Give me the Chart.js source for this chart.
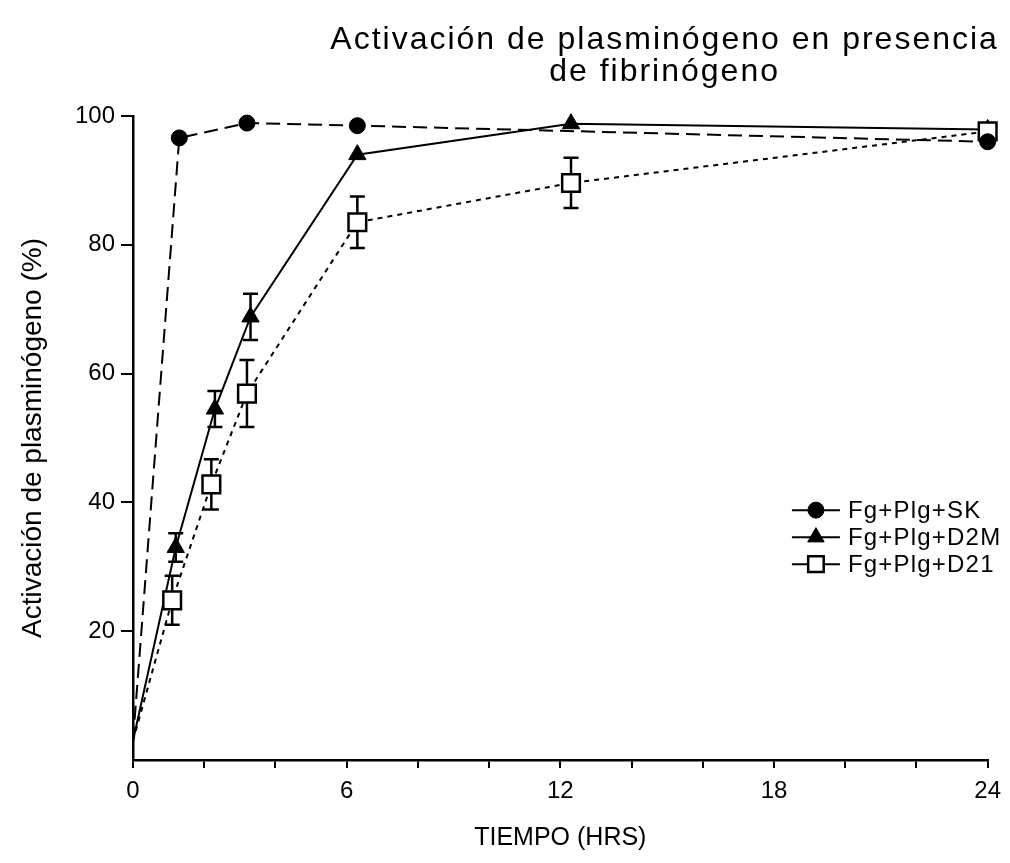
<!DOCTYPE html>
<html>
<head>
<meta charset="utf-8">
<script src="https://cdn.jsdelivr.net/npm/chart.js@4.4.1/dist/chart.umd.min.js"></script>
<style>
  html, body { margin: 0; padding: 0; background: #fff; }
  #wrap { width: 1010px; height: 863px; }
</style>
</head>
<body>
<div id="wrap"><canvas id="c" width="1010" height="863"></canvas></div>
<script>
// ---- data ----
const titleLines = ['Activación de plasminógeno en presencia', 'de fibrinógeno'];
const xTitle = 'TIEMPO (HRS)';
const yTitle = 'Activación de plasminógeno (%)';
const seriesLabels = ['Fg+Plg+SK', 'Fg+Plg+D2M', 'Fg+Plg+D21'];
const xTickLabels = [0, 6, 12, 18, 24];
const yTickLabels = [20, 40, 60, 80, 100];

const timesSK = [0, 1.3, 3.2, 6.3, 24];
const valuesSK = [3, 96.6, 98.9, 98.5, 96.0];

const timesD2M = [0, 1.2, 2.3, 3.3, 6.3, 12.3, 24];
const valuesD2M = [3, 33, 54.5, 68.8, 94, 98.8, 97.9];
const errD2M = [0, 2.2, 2.8, 3.6, 0, 0, 0];

const timesD21 = [0, 1.1, 2.2, 3.2, 6.3, 12.3, 24];
const valuesD21 = [3, 24.8, 42.8, 56.9, 83.5, 89.6, 97.6];
const errD21 = [0, 3.8, 3.9, 5.2, 4.0, 3.9, 0];

const FONT = '"Liberation Sans", Arial, Helvetica, sans-serif';

function pts(xs, ys) { return xs.map((x, i) => ({ x: x, y: ys[i] })); }
const hideFirst = (r) => (c) => (c.dataIndex === 0 ? 0 : r);

const datasets = [
  {
    label: seriesLabels[0], data: pts(timesSK, valuesSK),
    borderColor: '#000', borderWidth: 2, borderDash: [14, 7],
    pointStyle: 'circle', pointRadius: hideFirst(8),
    pointBackgroundColor: '#000', pointBorderColor: '#000', pointBorderWidth: 1,
    clip: false, order: 1
  },
  {
    label: seriesLabels[1], data: pts(timesD2M, valuesD2M), err: errD2M,
    borderColor: '#000', borderWidth: 2,
    pointStyle: 'triangle', pointRadius: hideFirst(10),
    pointBackgroundColor: '#000', pointBorderColor: '#000', pointBorderWidth: 1,
    clip: false, order: 3
  },
  {
    label: seriesLabels[2], data: pts(timesD21, valuesD21), err: errD21,
    borderColor: '#000', borderWidth: 2, borderDash: [5, 5],
    pointStyle: 'rect', pointRadius: hideFirst(12.5),
    pointBackgroundColor: '#fff', pointBorderColor: '#000', pointBorderWidth: 2.5,
    clip: false, order: 2
  }
];

const errorBars = {
  id: 'errorBars',
  beforeDatasetsDraw(chart) {
    const { ctx, scales: { x, y } } = chart;
    ctx.save();
    ctx.strokeStyle = '#000';
    ctx.lineWidth = 2.5;
    chart.data.datasets.forEach((ds) => {
      if (!ds.err) return;
      ds.data.forEach((p, i) => {
        const e = ds.err[i];
        if (!e) return;
        const px = x.getPixelForValue(p.x);
        const yt = y.getPixelForValue(p.y + e);
        const yb = y.getPixelForValue(p.y - e);
        ctx.beginPath();
        ctx.moveTo(px, yt); ctx.lineTo(px, yb);
        ctx.moveTo(px - 7.5, yt); ctx.lineTo(px + 7.5, yt);
        ctx.moveTo(px - 7.5, yb); ctx.lineTo(px + 7.5, yb);
        ctx.stroke();
      });
    });
    ctx.restore();
  }
};

const titleAndLegend = {
  id: 'titleAndLegend',
  afterDraw(chart) {
    const { ctx, chartArea: a } = chart;
    ctx.save();
    // main title
    ctx.fillStyle = '#000';
    ctx.font = '32px ' + FONT;
    ctx.textAlign = 'center';
    ctx.textBaseline = 'middle';
    try { ctx.letterSpacing = '2px'; } catch (e) {}
    const cx = a.left + a.width * 0.622;
    ctx.fillText(titleLines[0], cx, 40);
    ctx.fillText(titleLines[1], cx, 72);
    // legend
    try { ctx.letterSpacing = '1.2px'; } catch (e) {}
    ctx.font = '24px ' + FONT;
    ctx.textAlign = 'left';
    const lx = a.left + a.width * 0.771;
    const ly0 = a.top + a.height * 0.612;
    chart.data.datasets.forEach((ds, i) => {
      const yy = ly0 + i * 27;
      ctx.strokeStyle = '#000';
      ctx.lineWidth = 2;
      ctx.setLineDash([]);
      ctx.beginPath();
      ctx.moveTo(lx, yy); ctx.lineTo(lx + 48, yy);
      ctx.stroke();
      const r = ds.pointStyle === 'rect' ? 11 : (ds.pointStyle === 'triangle' ? 9.5 : 8);
      ctx.fillStyle = ds.pointBackgroundColor;
      ctx.strokeStyle = ds.pointBorderColor;
      ctx.lineWidth = ds.pointBorderWidth;
      Chart.helpers.drawPoint(ctx, {
        pointStyle: ds.pointStyle, radius: r, rotation: 0,
        borderWidth: ds.pointBorderWidth
      }, lx + 24, yy);
      ctx.fillStyle = '#000';
      ctx.fillText(ds.label, lx + 56, yy + 1);
    });
    ctx.restore();
  }
};

new Chart(document.getElementById('c'), {
  type: 'line',
  data: { datasets: datasets },
  plugins: [errorBars, titleAndLegend],
  options: {
    responsive: false,
    animation: false,
    layout: { padding: { left: 0, right: 22, top: 116, bottom: 0 } },
    plugins: { legend: { display: false }, title: { display: false }, tooltip: { enabled: false } },
    scales: {
      x: {
        type: 'linear', min: 0, max: 24,
        afterFit: (s) => { s.height = 103; },
        border: { display: true, color: '#000', width: 2.5 },
        grid: { drawOnChartArea: false, color: '#000', lineWidth: 2, tickLength: 8 },
        ticks: {
          stepSize: 2, color: '#000', padding: 9, maxRotation: 0, autoSkip: false,
          font: { family: FONT, size: 24 },
          callback: (v) => (xTickLabels.includes(v) ? String(v) : '')
        },
        title: {
          display: true, text: xTitle, color: '#000',
          font: { family: FONT, size: 25 }, padding: { bottom: 10 }
        }
      },
      y: {
        type: 'linear', min: 0, max: 100,
        afterFit: (s) => { s.width = 133; },
        afterBuildTicks: (s) => { s.ticks = s.ticks.filter((t) => yTickLabels.includes(t.value)); },
        border: { display: true, color: '#000', width: 2.5 },
        grid: { drawOnChartArea: false, color: '#000', lineWidth: 2, tickLength: 12 },
        ticks: {
          stepSize: 20, color: '#000', padding: 6,
          font: { family: FONT, size: 24 }
        },
        title: {
          display: true, text: yTitle, color: '#000',
          font: { family: FONT, size: 28 }, padding: { top: 16 }
        }
      }
    }
  }
});
</script>
</body>
</html>
